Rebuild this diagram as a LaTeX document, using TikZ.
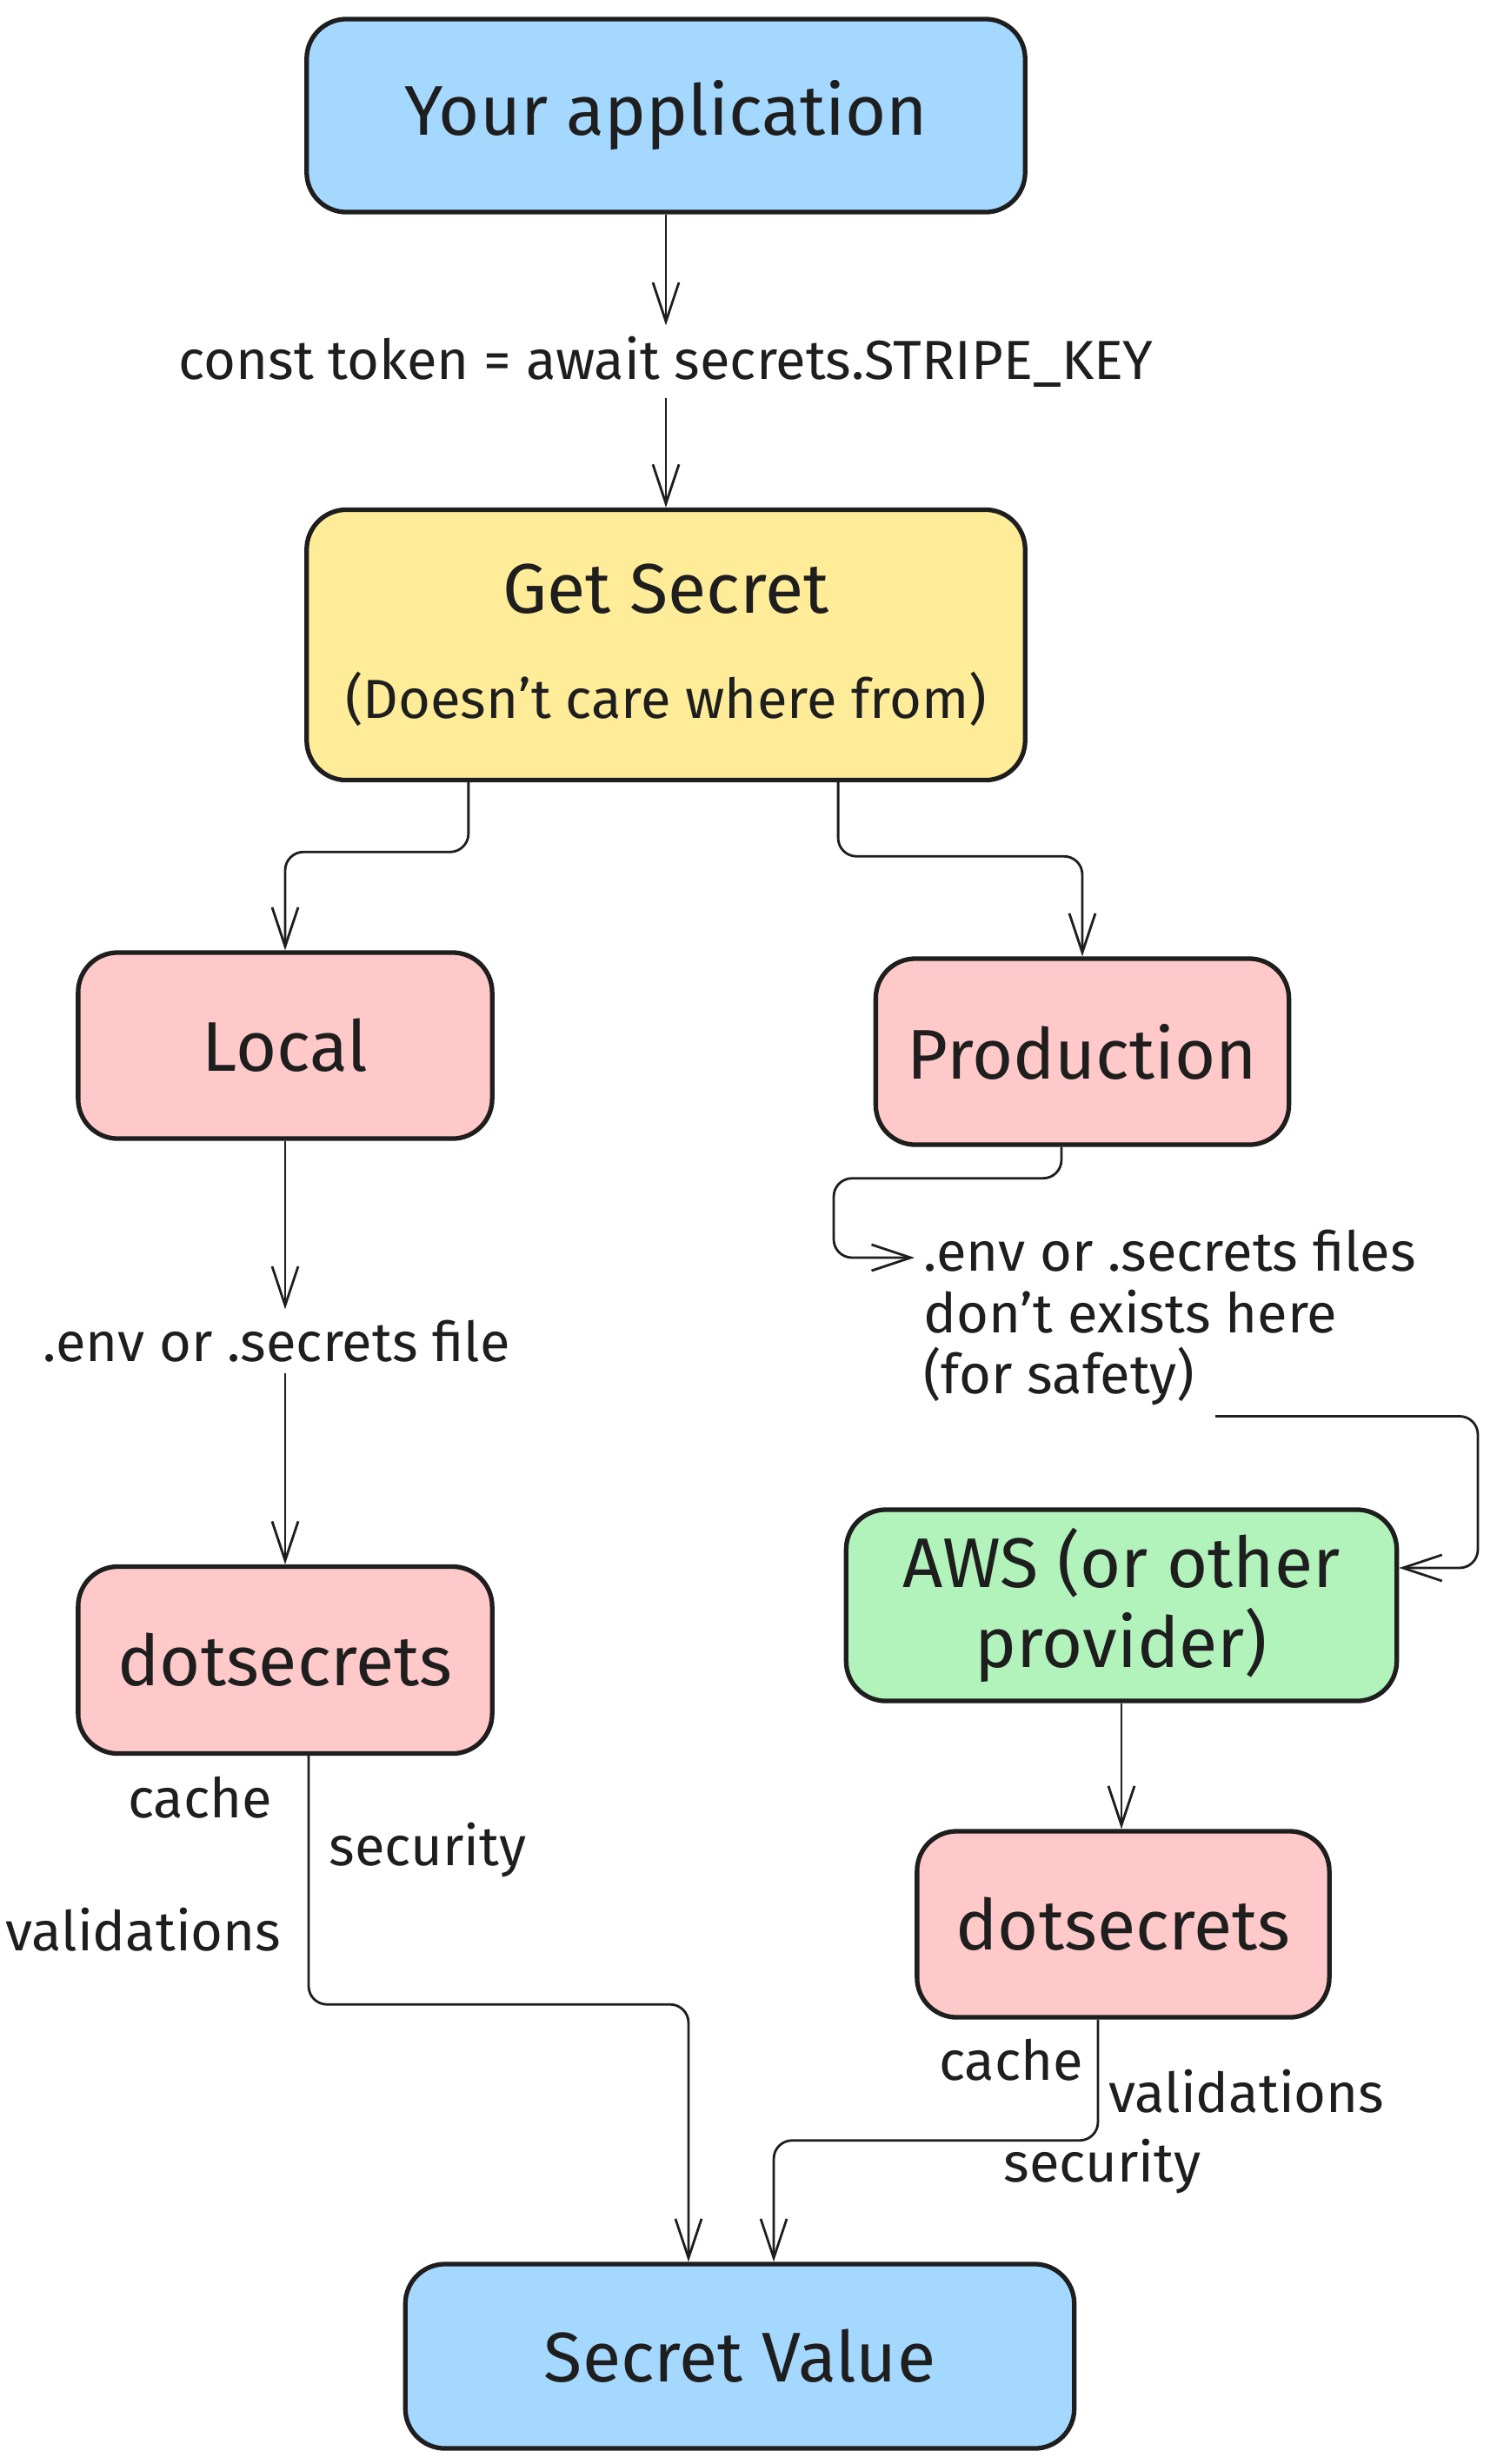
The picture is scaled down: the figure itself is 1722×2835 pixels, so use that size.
\documentclass[tikz,border=0pt]{standalone}
\usepackage{fontspec}
\setmainfont{Fira Sans}
\usetikzlibrary{arrows.meta,positioning,calc}

\definecolor{appblue}{HTML}{A5D8FF}
\definecolor{secretyellow}{HTML}{FFEC99}
\definecolor{envpink}{HTML}{FFC9C9}
\definecolor{cloudgreen}{HTML}{B2F2BB}
\definecolor{ink}{HTML}{1E1E1E}

\begin{document}
\begin{tikzpicture}[x=0.01cm, y=-0.01cm]

\tikzstyle{cell} = [rectangle, rounded corners=13pt, draw=ink, line width=1.5pt, text=ink, align=center, font=\fontsize{23}{26}\selectfont]
\tikzstyle{note} = [text=ink, font=\fontsize{18}{20}\selectfont]
\tikzstyle{arrow} = [draw=ink, line width=0.8pt, rounded corners=6pt, -{Straight Barb[length=4.5mm,width=3mm]}]

\useasboundingbox (0,0) rectangle (1722,2835);

%% ----------------
%% -- REQUEST --
%% ----------------

\node (app) [cell, fill=appblue, minimum width=8.26cm, minimum height=2.22cm] at (766,133) {Your application};
\node (call) [note] at (766,416) {const token = await secrets.STRIPE\_KEY};
\node (get) [cell, fill=secretyellow, minimum width=8.26cm, minimum height=3.11cm] at (766,742) {Get Secret\\[0.3cm] {\fontsize{18}{20}\selectfont (Doesn’t care where from)}};

\draw [arrow] (app.south) -- (app.south |- call.north);
\draw [arrow] (call.south -| get) -- (get);

%% ----------------
%% -- LOCAL --
%% ----------------

\node (local) [cell, fill=envpink, minimum width=4.76cm, minimum height=2.14cm] at (328,1203) {Local};
\node (envlocal) [note] at (318,1543) {.env or .secrets file};
\node (dots1) [cell, fill=envpink, minimum width=4.76cm, minimum height=2.15cm] at (328,1910) {dotsecrets};

\draw [arrow] ([xshift=-2.27cm]get.south) -- ++(0,80) -| (local);
\draw [arrow] (local.south) -- (local.south |- envlocal.north);
\draw [arrow] (envlocal.south -| local) -- (dots1);

\node (cache1) [note] at (230,2068) {cache};
\node (sec1) [note] at (492,2129) {security};
\node (val1) [note] at (165,2220) {validations};

%% ----------------
%% -- PRODUCTION --
%% ----------------

\node (prod) [cell, fill=envpink, minimum width=4.75cm, minimum height=2.14cm] at (1245,1210) {Production};
\node (envprod) [note, align=left, anchor=north west] at (1050,1403) {.env or .secrets files\\don’t exists here\\(for safety)};
\node (aws) [cell, fill=cloudgreen, minimum width=6.33cm, minimum height=2.2cm] at (1290,1847) {AWS (or other\\provider)};
\node (dots2) [cell, fill=envpink, minimum width=4.74cm, minimum height=2.14cm] at (1292,2214) {dotsecrets};

\draw [arrow] ([xshift=1.98cm]get.south) -- ++(0,85) -| (prod);
\draw [arrow] ([xshift=-0.24cm]prod.south) -- ++(0,36) -| ($(envprod.north west)+(-91,44)$) -- ($(envprod.north west)+(2,44)$);
\draw [arrow] ($(envprod.south west)+(348,0)$) -- ++(302,0) |- ([yshift=0.43cm]aws.east);
\draw [arrow] (aws.south) -- (aws.south |- dots2.north);

\node (cache2) [note] at (1163,2370) {cache};
\node (val2) [note] at (1434,2406) {validations};
\node (sec2) [note] at (1268,2493) {security};

%% ----------------
%% -- RESULT --
%% ----------------

\node (secret) [cell, fill=appblue, minimum width=7.69cm, minimum height=2.12cm] at (851,2711) {Secret Value};

\draw [arrow] ([xshift=0.27cm]dots1.south) -- ++(0,286) -| ([xshift=-0.59cm]secret.north);
\draw [arrow] ([xshift=-0.29cm]dots2.south) -- ++(0,139) -| ([xshift=0.39cm]secret.north);

\end{tikzpicture}
\end{document}
